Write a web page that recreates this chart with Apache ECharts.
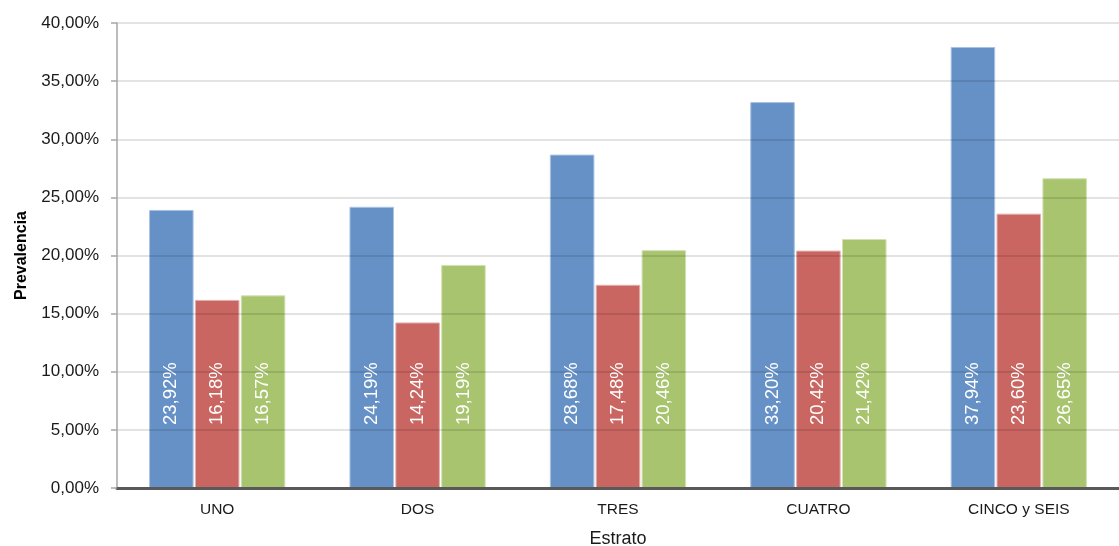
<!DOCTYPE html>
<html>
<head>
<meta charset="utf-8">
<script src="https://cdn.jsdelivr.net/npm/echarts@6/dist/echarts.min.js"></script>
<style>html,body{margin:0;padding:0;background:#fff;}#c{width:1119px;height:546px;}</style>
</head>
<body>
<div id="c"></div>
<script>
const categories = ['UNO', 'DOS', 'TRES', 'CUATRO', 'CINCO y SEIS'];
const serieA = [23.92, 24.19, 28.68, 33.20, 37.94];
const serieB = [16.18, 14.24, 17.48, 20.42, 23.60];
const serieC = [16.57, 19.19, 20.46, 21.42, 26.65];
const colors = ['#6691C6', '#C96662', '#A9C46E'];
const borders = ['#A9C3E3', '#E3B0AE', '#D2E2B3'];

const fmt = v => v.toFixed(2).replace('.', ',') + '%';
const font = '"Liberation Sans", Arial, sans-serif';

function mk(data, i) {
  return {
    type: 'bar',
    data: data,
    barGap: '3%',
    barCategoryGap: '32%',
    itemStyle: { color: colors[i], borderColor: borders[i], borderWidth: 1 },
    label: {
      show: true,
      position: 'insideBottom',
      rotate: 90,
      align: 'left',
      verticalAlign: 'middle',
      distance: 63,
      color: '#fff',
      fontFamily: font,
      fontSize: 18.5,
      formatter: p => fmt(p.value)
    }
  };
}

const chart = echarts.init(document.getElementById('c'));
chart.setOption({
  animation: false,
  grid: { left: 117, right: 0, top: 23, bottom: 58, containLabel: false, outerBoundsMode: 'none' },
  xAxis: {
    type: 'category',
    data: categories,
    name: 'Estrato',
    nameLocation: 'middle',
    nameGap: 42,
    nameTextStyle: { fontFamily: font, fontSize: 18, color: '#1a1a1a' },
    axisLine: { lineStyle: { color: '#595959', width: 3 } },
    axisTick: { show: false },
    axisLabel: { fontFamily: font, fontSize: 15.5, color: '#1a1a1a', margin: 14 },
    z: 5
  },
  yAxis: {
    type: 'value',
    min: 0, max: 40, interval: 5,
    name: 'Prevalencia',
    nameLocation: 'middle',
    nameGap: 87,
    nameRotate: 90,
    nameTextStyle: { fontFamily: font, fontSize: 16, fontWeight: 'bold', color: '#000' },
    axisLine: { show: true, lineStyle: { color: '#a6a6a6', width: 1.5 } },
    axisTick: { show: true, length: 6, lineStyle: { color: '#a6a6a6', width: 1.5 } },
    axisLabel: { fontFamily: font, fontSize: 17, color: '#1a1a1a', margin: 18, formatter: v => fmt(v) },
    splitLine: { lineStyle: { color: 'rgba(0,0,0,0.15)', width: 1.5 } },
    z: 5
  },
  series: [mk(serieA, 0), mk(serieB, 1), mk(serieC, 2)]
});
</script>
</body>
</html>
